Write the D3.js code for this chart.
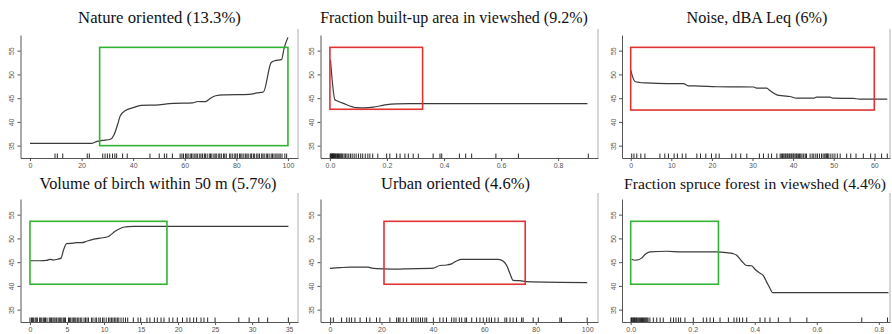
<!DOCTYPE html>
<html>
<head>
<meta charset="utf-8">
<script src="https://cdn.jsdelivr.net/npm/d3@7"></script>
<style>
body { margin: 0; background: #fff; }
.title { font-family: "Liberation Serif", "Times New Roman", serif; font-size: 17px; fill: #111; }
.axis text { font-family: "Liberation Sans", Arial, sans-serif; font-size: 7px; fill: #555; }
.axis path, .axis line { stroke: #555; }
</style>
</head>
<body>
<div id="chart"></div>
<script>
var svgWidth = 892;
var svgHeight = 334;

// titles
var titles = [
  "Nature oriented (13.3%)",
  "Fraction built-up area in viewshed (9.2%)",
  "Noise, dBA Leq (6%)",
  "Volume of birch within 50 m (5.7%)",
  "Urban oriented (4.6%)",
  "Fraction spruce forest in viewshed (4.4%)"
];

// y ticks shared by all panels
var yTicks = [35, 40, 45, 50, 55];

// x ticks per panel
var natureTicks = [0, 20, 40, 60, 80, 100];
var builtTicks = [0, 0.2, 0.4, 0.6, 0.8];
var noiseTicks = [0, 10, 20, 30, 40, 50, 60];
var birchTicks = [0, 5, 10, 15, 20, 25, 30, 35];
var urbanTicks = [0, 20, 40, 60, 80, 100];
var spruceTicks = [0, 0.2, 0.4, 0.6, 0.8];

// partial dependence curves [x, y]
var natureCurve = [[0,35.5],[24,35.5],[26,35.9],[28,36.1],[31,36.3],[32.5,37.2],[34,39.5],[35,41.3],[37,42.4],[40,43.0],[43,43.5],[50,43.6],[53,43.8],[56,43.9],[63,44.0],[65,44.3],[68,44.25],[70,45.0],[72,45.5],[75,45.7],[85,45.8],[88,46.1],[90.5,46.3],[93.5,52.5],[95,52.9],[97.5,53.1],[98.5,55.5],[100,57.8]];
var builtCurve = [[0.002,53.0],[0.018,44.6],[0.022,44.5],[0.047,43.9],[0.094,43.0],[0.123,42.95],[0.152,43.1],[0.193,43.57],[0.234,43.8],[0.28,43.85],[0.33,43.85],[0.903,43.85]];
var noiseCurve = [[0,50.9],[1.06,48.5],[2.3,48.3],[3.9,48.2],[8.9,48.05],[13,48.05],[14.2,47.6],[17.1,47.55],[21.2,47.4],[30.3,47.35],[31,47.1],[33.5,47.1],[34.3,46.6],[36,45.7],[37.6,45.5],[39.2,45.35],[40.9,45.0],[45,45.0],[45.8,45.2],[49.1,45.2],[49.9,45.0],[54.8,44.95],[56.4,44.8],[63.2,44.8]];
var birchCurve = [[0,45.3],[1.35,45.3],[2.25,45.37],[2.7,45.6],[3.15,45.45],[3.8,45.65],[4.2,45.85],[4.5,47.4],[4.95,48.9],[5.85,49.0],[6.3,49.1],[7,49.1],[7.66,49.4],[8.3,49.7],[9.46,50.05],[10.6,50.4],[10.8,50.6],[11.5,51.5],[12.2,52.1],[12.8,52.4],[13.3,52.5],[14,52.55],[34.9,52.55]];
var urbanCurve = [[0,43.7],[3.9,43.85],[7.8,43.95],[14.9,43.95],[16.2,43.75],[20.7,43.6],[27.2,43.55],[29.8,43.6],[40.2,43.75],[42.7,44.3],[45.3,44.4],[47.3,44.65],[49.2,45.25],[51.2,45.6],[53.1,45.6],[65.4,45.6],[67.4,45.2],[68.7,44.3],[70,42.55],[71.2,41.15],[73.8,41.1],[76.4,40.9],[100,40.7]];
var spruceCurve = [[0.003,45.6],[0.014,45.4],[0.025,45.5],[0.035,45.85],[0.046,46.6],[0.062,47.15],[0.116,47.3],[0.164,47.15],[0.277,47.15],[0.309,47.0],[0.33,46.8],[0.341,46.5],[0.357,45.3],[0.373,44.3],[0.39,44.25],[0.4,43.55],[0.414,42.8],[0.427,42.2],[0.438,40.85],[0.449,39.5],[0.457,38.6],[0.546,38.6],[0.831,38.6]];

// rug (observed x values)
var natureRug = [9.7,10.6,12.7,22.2,23,28.2,29.1,30.0,30.9,32,32.9,33.6,35.9,37.7,46.5,50.1,52.1,53,55.2,58.2,58.9,59.5,60.3,60.8,61.3,62.1,62.6,63.2,63.9,64.4,65.0,65.8,66.3,66.9,67.6,68.0,68.7,69.5,70.0,70.5,71.3,71.8,72.4,73.2,73.6,74.2,75.0,75.5,76.1,77.4,77.9,78.6,79.4,79.8,80.4,81.2,81.7,82.2,82.9,83.6,84.1,84.6,85.4,85.9,86.6,87.1,87.9,88.4,89.0,89.8,90.3,90.8,91.6,92.1,92.7,93.5,94.0,94.6,95.3,95.8,96.5,97.0,97.7,98.8,99.5];
var builtRug = [0.001,0.003,0.005,0.007,0.009,0.011,0.013,0.015,0.017,0.02,0.022,0.025,0.027,0.03,0.033,0.036,0.039,0.042,0.045,0.05,0.055,0.06,0.066,0.072,0.078,0.085,0.092,0.1,0.108,0.115,0.124,0.133,0.14,0.15,0.168,0.199,0.21,0.234,0.246,0.263,0.275,0.292,0.31,0.362,0.386,0.392,0.454,0.476,0.497,0.582,0.661,0.906];
var noiseRug = [0.25,0.8,1.5,2.5,3.5,7.2,8.4,9.3,10.7,11.5,12.7,13.6,16.3,17.2,18.5,19.9,21,21.8,24.9,25.9,27.1,28.6,31.7,32.7,33.9,34.7,36,36.8,37.1,37.4,37.7,38.0,38.2,38.5,38.7,39.0,39.2,39.5,39.7,40.0,40.2,40.5,40.8,41.0,41.3,41.6,41.9,42.2,42.6,43.0,43.3,44.2,44.7,45.1,45.6,46.0,46.5,47.0,47.4,47.8,48.1,48.3,48.5,48.8,49.3,49.8,50.3,50.9,51.6,53.2,54.2,55.5,57.3,59.1,60.2,61.8,63.2];
var birchRug = [0,0.2,0.35,0.5,0.7,0.85,1.0,1.3,1.45,1.6,1.8,1.95,2.1,2.3,2.6,2.75,2.9,3.1,3.25,3.4,3.6,3.8,3.95,4.1,4.3,4.5,4.65,4.8,5.2,5.35,5.5,5.7,5.9,6.05,6.2,6.4,6.6,6.8,7.0,7.3,7.5,7.7,7.9,8.3,8.5,8.8,9.0,9.3,9.5,9.8,10.0,10.3,10.6,10.8,11.0,11.2,11.4,11.6,11.8,12.0,12.3,12.6,12.9,13.2,13.96,14.6,14.95,15.8,16.2,16.8,17.2,17.7,18.1,18.8,19.3,19.9,20.6,21.2,21.6,22.1,22.5,23.1,23.5,24,25,28.2,29.6,30.9,32.1,34.9];
var urbanRug = [0.26,1.3,4.5,6.5,7.5,8.4,9.7,11.7,14.2,15.5,18.1,19.4,23.3,25.9,26.6,27.2,28.5,29.8,31.7,32.4,33.4,34.3,35.2,36,36.9,37.6,40.2,42.7,44,45.3,47.3,48.2,49,50.3,51.2,52.5,53.1,55.1,57,58.3,59.6,60.9,61.9,62.8,64.1,65.4,68,68.7,70,71.2,72.5,74.5,75.1,79,81,89.4,90,100];
var spruceRug = [0.001,0.003,0.005,0.008,0.01,0.012,0.015,0.018,0.02,0.023,0.026,0.029,0.032,0.035,0.038,0.041,0.044,0.047,0.05,0.053,0.056,0.062,0.073,0.084,0.095,0.105,0.129,0.138,0.146,0.154,0.161,0.175,0.202,0.234,0.245,0.256,0.267,0.288,0.315,0.333,0.342,0.351,0.361,0.374,0.417,0.433,0.449,0.476,0.514,0.568,0.745,0.828];

// highlighted ranges [x0, x1, y0, y1] and their colour
var natureBox = [27, 100, 35, 55.7];
var builtBox = [0, 0.325, 42.66, 55.7];
var noiseBox = [0, 60, 42.5, 55.7];
var birchBox = [0, 18.5, 40.35, 53.6];
var urbanBox = [21, 75.9, 40.35, 53.6];
var spruceBox = [0, 0.283, 40.35, 53.6];
var boxColors = ["#33b333", "#e23232", "#e23232", "#33b333", "#e23232", "#33b333"];

// layout
var colLeft = [20.5, 320.5, 622];
var colRight = [298, 598, 890];
var rowTop = [35, 199];
var rowBottom = [158, 322];
var titleBase = [23, 189];
var titleCenter = [159.5, 454, 757, 158, 455.5, 755];
var titleWidth = [163, 268, 141, 237, 149, 262];
var yDomain = [32.4, 58.3];

var panels = [
  {curve: natureCurve, rug: natureRug, box: natureBox, ticks: natureTicks, xDomain: [-3.68, 103.9], fmt: d3.format("d")},
  {curve: builtCurve, rug: builtRug, box: builtBox, ticks: builtTicks, xDomain: [-0.033, 0.94], fmt: d3.format(".1f")},
  {curve: noiseCurve, rug: noiseRug, box: noiseBox, ticks: noiseTicks, xDomain: [-2.14, 63.87], fmt: d3.format("d")},
  {curve: birchCurve, rug: birchRug, box: birchBox, ticks: birchTicks, xDomain: [-1.28, 36.2], fmt: d3.format("d")},
  {curve: urbanCurve, rug: urbanRug, box: urbanBox, ticks: urbanTicks, xDomain: [-3.69, 104.2], fmt: d3.format("d")},
  {curve: spruceCurve, rug: spruceRug, box: spruceBox, ticks: spruceTicks, xDomain: [-0.028, 0.836], fmt: d3.format(".1f")}
];

var svg = d3.select("#chart")
  .append("svg")
  .attr("width", svgWidth)
  .attr("height", svgHeight)
  .style("display", "block");

panels.forEach(function (p, i) {
  var col = i % 3;
  var row = Math.floor(i / 3);
  var left = colLeft[col], right = colRight[col];
  var top = rowTop[row], bottom = rowBottom[row];

  var x = d3.scaleLinear().domain(p.xDomain).range([left, right]);
  var y = d3.scaleLinear().domain(yDomain).range([bottom, top]);

  var g = svg.append("g");

  // title; font size scaled so it has the width of the original
  var title = g.append("text")
    .attr("class", "title")
    .attr("x", titleCenter[i])
    .attr("y", titleBase[row])
    .attr("text-anchor", "middle")
    .text(titles[i]);
  var natural = title.node().getComputedTextLength();
  var size = Math.min(17.5, 17 * titleWidth[i] / natural);
  title.style("font-size", size.toFixed(2) + "px");

  // x axis
  g.append("g")
    .attr("class", "axis")
    .attr("transform", `translate(0, ${bottom})`)
    .call(d3.axisBottom(x).tickValues(p.ticks).tickFormat(p.fmt).tickSize(3).tickSizeOuter(0).tickPadding(2));

  // y axis with rotated labels
  var yAxis = g.append("g")
    .attr("class", "axis")
    .attr("transform", `translate(${left}, 0)`)
    .call(d3.axisLeft(y).tickValues(yTicks).tickSize(3).tickSizeOuter(0));
  yAxis.selectAll(".tick text")
    .attr("x", null)
    .attr("dy", null)
    .attr("text-anchor", "middle")
    .attr("transform", "translate(-6.5,0) rotate(-90)");

  // panel right edge
  g.append("line")
    .attr("x1", right).attr("x2", right)
    .attr("y1", top - 6).attr("y2", bottom)
    .attr("stroke", "#9a9a9a")
    .attr("stroke-width", 0.8);

  // rug
  g.selectAll(".rug")
    .data(p.rug)
    .enter()
    .append("line")
    .attr("class", "rug")
    .attr("x1", d => x(d)).attr("x2", d => x(d))
    .attr("y1", bottom).attr("y2", bottom - 4.5)
    .attr("stroke", "#111")
    .attr("stroke-width", 0.9);

  // curve
  var line = d3.line()
    .x(d => x(d[0]))
    .y(d => y(d[1]))
    .curve(d3.curveMonotoneX);
  g.append("path")
    .datum(p.curve)
    .attr("d", line)
    .attr("fill", "none")
    .attr("stroke", "#3a3a3a")
    .attr("stroke-width", 1.2);

  // highlight box
  g.append("rect")
    .attr("x", x(p.box[0]))
    .attr("y", y(p.box[3]))
    .attr("width", x(p.box[1]) - x(p.box[0]))
    .attr("height", y(p.box[2]) - y(p.box[3]))
    .attr("fill", "none")
    .attr("stroke", boxColors[i])
    .attr("stroke-width", 1.6);
});
</script>
</body>
</html>
